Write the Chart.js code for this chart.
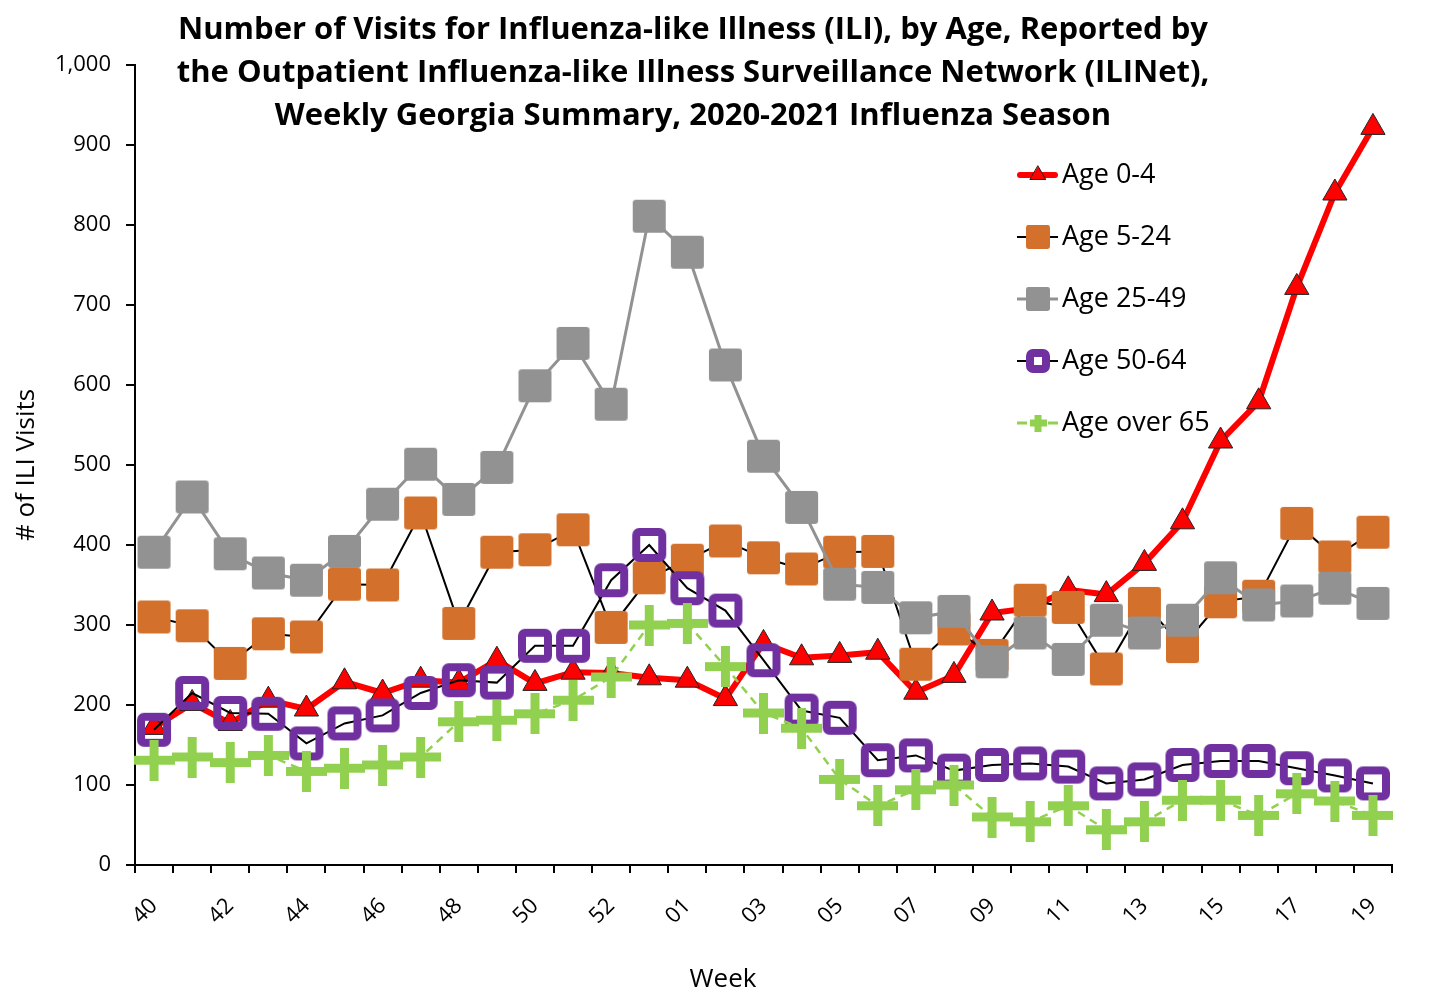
<!DOCTYPE html>
<html><head><meta charset="utf-8">
<script src="https://cdn.jsdelivr.net/npm/chart.js@4.4.1/dist/chart.umd.min.js"></script>
<style>html,body{margin:0;padding:0;background:#fff}canvas{display:block}</style>
</head><body>
<canvas id="c" width="1429" height="992"></canvas>
<script>
// ---- data ----
const weeks = ['40','41','42','43','44','45','46','47','48','49','50','51','52','53',
  '01','02','03','04','05','06','07','08','09','10','11','12','13','14','15','16','17','18','19'];
const seriesNames = ['Age 0-4','Age 5-24','Age 25-49','Age 50-64','Age over 65'];
const age0to4   = [172,202,177,206,195,229,215,231,228,256,227,241,240,234,231,208,277,259,262,266,216,237,315,321,344,338,377,429,530,579,722,840,922];
const age5to24  = [310,299,252,289,285,351,350,440,302,391,394,419,297,359,381,405,384,370,391,392,251,295,262,331,322,245,327,273,329,336,427,385,416];
const age25to49 = [391,460,389,365,356,392,451,501,457,497,599,652,576,811,766,625,511,447,351,347,309,317,254,290,257,306,290,306,359,325,330,346,327];
const age50to64 = [169,215,190,189,152,177,187,215,231,228,274,274,356,400,346,318,256,193,184,131,137,118,125,127,123,102,107,125,130,130,121,112,102];
const age65plus = [131,135,128,137,117,121,125,135,179,181,189,206,235,300,302,248,190,171,107,74,94,100,60,54,74,44,54,81,81,62,89,80,62];
const titleLines = [
  'Number of Visits for Influenza-like Illness (ILI), by Age, Reported by',
  'the Outpatient Influenza-like Illness Surveillance Network (ILINet),',
  'Weekly Georgia Summary, 2020-2021 Influenza Season'
];
const xTitle = 'Week';
const yTitle = '# of ILI Visits';

// ---- colours ----
const RED = '#FF0000', ORANGE = '#D2702C', GRAY = '#929292', PURPLE = '#7030A0', GREEN = '#92D050';

// ---- marker images ----
function rr(g,x,y,w,h,r){g.beginPath();g.moveTo(x+r,y);g.arcTo(x+w,y,x+w,y+h,r);g.arcTo(x+w,y+h,x,y+h,r);g.arcTo(x,y+h,x,y,r);g.arcTo(x,y,x+w,y,r);g.closePath();}
function squareMarker(size,color){const c=document.createElement('canvas');c.width=c.height=size+2;const g=c.getContext('2d');rr(g,1,1,size,size,Math.max(2,size*0.1));g.fillStyle=color;g.fill();return c;}
function hollowMarker(size,color,t,fillInner){const c=document.createElement('canvas');c.width=c.height=size+2;const g=c.getContext('2d');rr(g,1+t/2,1+t/2,size-t,size-t,3);if(fillInner){g.fillStyle='#fff';g.fill();}g.lineWidth=t;g.strokeStyle=color;g.stroke();return c;}
function crossMarker(w,t,color){const c=document.createElement('canvas');c.width=c.height=w;const g=c.getContext('2d');g.fillStyle=color;g.fillRect(0,(w-t)/2,w,t);g.fillRect((w-t)/2,0,t,w);return c;}

const mOrange = squareMarker(33,ORANGE), mGray = squareMarker(33,GRAY);
const mPurple = hollowMarker(34,PURPLE,8,false), mGreen = crossMarker(41,9,GREEN);
const lOrange = squareMarker(24,ORANGE), lGray = squareMarker(24,GRAY);
const lPurple = hollowMarker(24,PURPLE,8,true), lGreen = crossMarker(17,7,GREEN);

Chart.defaults.font.family = "'Open Sans', 'Noto Sans', sans-serif";
Chart.defaults.color = '#000';

const overlay = {
  id:'overlay',
  afterDraw(chart){
    const g = chart.ctx; g.save();
    g.fillStyle = '#000'; g.textAlign = 'center'; g.textBaseline = 'middle';
    g.font = "bold 31px 'Open Sans', sans-serif";
    titleLines.forEach((t,i)=>g.fillText(t, 693, 30 + i*43));
    g.font = "26px 'Open Sans', sans-serif";
    g.fillText(xTitle, 723, 980);
    // legend
    const x0 = 1017, x1 = 1058, xm = 1038, tx = 1062;
    const rows = [175,237,299,361,423];
    g.textAlign = 'left'; g.font = "27px 'Open Sans', sans-serif";
    rows.forEach((y,i)=>{
      g.save();
      if(i===0){g.strokeStyle=RED;g.lineWidth=6;g.lineCap='round';g.beginPath();g.moveTo(x0+3,y);g.lineTo(x1-3,y);g.stroke();
        const r=9;g.beginPath();g.moveTo(xm,y-r);g.lineTo(xm+r*0.866,y+r*0.5);g.lineTo(xm-r*0.866,y+r*0.5);g.closePath();g.fillStyle=RED;g.fill();g.lineWidth=1;g.strokeStyle='#222';g.stroke();}
      else if(i===1||i===3){g.strokeStyle='#000';g.lineWidth=2;g.beginPath();g.moveTo(x0,y);g.lineTo(x1,y);g.stroke();
        const m=i===1?lOrange:lPurple;g.drawImage(m,xm-m.width/2,y-m.height/2);}
      else if(i===2){g.strokeStyle=GRAY;g.lineWidth=3;g.beginPath();g.moveTo(x0,y);g.lineTo(x1,y);g.stroke();g.drawImage(lGray,xm-lGray.width/2,y-lGray.height/2);}
      else {g.strokeStyle=GREEN;g.lineWidth=3;g.beginPath();g.moveTo(x0,y);g.lineTo(x0+10,y);g.moveTo(x1-10,y);g.lineTo(x1,y);g.stroke();g.drawImage(lGreen,xm-lGreen.width/2,y-lGreen.height/2);}
      g.restore();
      g.fillStyle='#000';g.fillText(seriesNames[i], tx, y);
    });
    g.restore();
  }
};

new Chart(document.getElementById('c'), {
  type:'line',
  data:{
    labels: weeks,
    datasets:[
      {label:seriesNames[0], data:age0to4, order:5, borderColor:RED, borderWidth:6, backgroundColor:RED,
       pointStyle:'triangle', pointRadius:14, pointBorderColor:'#222', pointBorderWidth:1, pointBackgroundColor:RED, tension:0},
      {label:seriesNames[1], data:age5to24, order:4, borderColor:'#000', borderWidth:2,
       pointStyle:mOrange, pointRadius:17, tension:0},
      {label:seriesNames[2], data:age25to49, order:3, borderColor:GRAY, borderWidth:3,
       pointStyle:mGray, pointRadius:17, tension:0},
      {label:seriesNames[3], data:age50to64, order:2, borderColor:'#000', borderWidth:2,
       pointStyle:mPurple, pointRadius:17, tension:0},
      {label:seriesNames[4], data:age65plus, order:1, borderColor:GREEN, borderWidth:2.5, borderDash:[8,6],
       pointStyle:mGreen, pointRadius:20, tension:0}
    ]
  },
  options:{
    responsive:false, animation:false, events:[], devicePixelRatio:1,
    layout:{padding:{top:65, right:37, bottom:0, left:0}},
    plugins:{legend:{display:false}, tooltip:{enabled:false}, title:{display:false}},
    scales:{
      x:{type:'category', offset:true,
        grid:{offset:true, drawOnChartArea:false, drawTicks:true, tickLength:8, color:'#000', lineWidth:2},
        border:{color:'#000', width:2},
        ticks:{autoSkip:false, maxRotation:45, minRotation:45, padding:20, font:{size:22}, color:'#000',
          callback:(v,i)=> i%2===0 ? weeks[i] : ''},
        afterFit:(s)=>{s.height = 127;}
      },
      y:{min:0, max:1000,
        grid:{drawOnChartArea:false, drawTicks:true, tickLength:9, color:'#000', lineWidth:2},
        border:{color:'#000', width:2},
        ticks:{stepSize:100, padding:15, font:{size:22}, color:'#000'},
        title:{display:true, text:yTitle, font:{size:26}, color:'#000', padding:{top:11,bottom:0}},
        afterFit:(s)=>{s.width = 135;}
      }
    }
  },
  plugins:[overlay]
});
</script>
</body></html>
